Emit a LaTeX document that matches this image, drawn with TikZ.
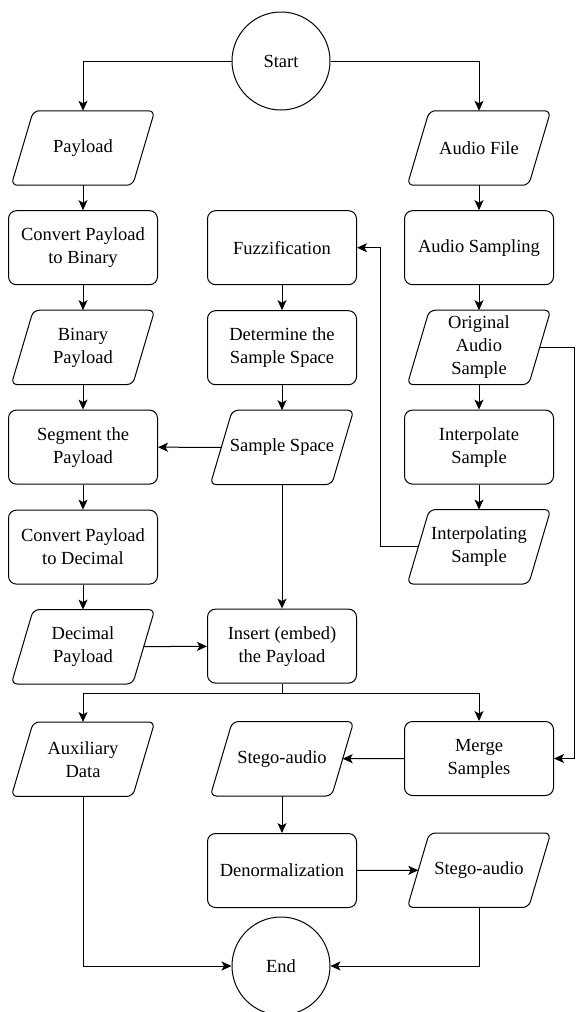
\documentclass[tikz,border=0pt]{standalone}
\usepackage{fontspec}
\setmainfont{Liberation Serif}
\usetikzlibrary{positioning,arrows.meta}

\begin{document}
\begin{tikzpicture}[
  x=1pt, y=-1pt,
  font=\fontsize{18.5}{23}\selectfont,
  every node/.style={align=center},
  term/.style   ={draw, line width=1pt, circle, minimum size=98pt, inner sep=0pt},
  process/.style={draw, line width=1pt, rounded corners=8pt, minimum width=149pt,
                  minimum height=74pt, inner sep=2pt},
  data/.style   ={minimum width=121pt, minimum height=74pt, inner sep=2pt,
                  append after command={\pgfextra{
                    \draw[line width=1pt, rounded corners=6pt]
                      ([xshift=11pt]\tikzlastnode.north west) -- ([xshift=11pt]\tikzlastnode.north east)
                      -- ([xshift=-11pt]\tikzlastnode.south east) -- ([xshift=-11pt]\tikzlastnode.south west)
                      -- cycle;}}},
  flow/.style   ={-{Stealth[length=10pt, width=9pt, inset=2.5pt]}, line width=1pt},
  link/.style   ={line width=1pt},
]
\useasboundingbox (0,0) rectangle (579,1012);

\node[term] (start) at (281,61) {Start};

% payload column
\node[data] (payload) at (83,148) {Payload};
\node[process, below=25pt of payload] (tobin) {Convert Payload\\ to Binary};
\node[data, below=25pt of tobin] (binpay) {Binary\\ Payload};
\node[process, below=25pt of binpay] (segment) {Segment the\\ Payload};
\node[process, below=25pt of segment] (todec) {Convert Payload\\ to Decimal};
\node[data, below=25pt of todec] (decpay) {Decimal\\ Payload};
\node[data, below=38pt of decpay] (aux) {Auxiliary\\ Data};

% fuzzy column
\node[process, right=49pt of tobin] (fuzz) {Fuzzification};
\node[process, below=25pt of fuzz] (sspace) {Determine the\\ Sample Space};
\node[data, below=25pt of sspace] (space) {Sample Space};
\node[process, below=124pt of space] (insert) {Insert (embed)\\ the Payload};
\node[data, below=38pt of insert] (stegoa) {Stego-audio};
\node[process, below=37pt of stegoa] (denorm) {Denormalization};

% audio column
\node[data] (audio) at (479,148) {Audio File};
\node[process, below=25pt of audio] (sampling) {Audio Sampling};
\node[data, below=25pt of sampling] (orig) {Original\\ Audio\\ Sample};
\node[process, below=25pt of orig] (interp) {Interpolate\\ Sample};
\node[data, below=25pt of interp] (interping) {Interpolating\\ Sample};
\node[process, below=137pt of interping] (merge) {Merge\\ Samples};
\node[data, below=37pt of merge] (stegob) {Stego-audio};

\node[term] (end) at (281,966) {End};

\coordinate (rail) at (574,0);
\coordinate (back) at (380,0);
\coordinate (split) at (0,693);

\draw[flow] (start) -| (payload);
\draw[flow] (start) -| (audio);

\draw[flow] (payload) -- (tobin);
\draw[flow] (tobin) -- (binpay);
\draw[flow] (binpay) -- (segment);
\draw[flow] (segment) -- (todec);
\draw[flow] (todec) -- (decpay);
\draw[flow] (decpay) -- (insert);

\draw[flow] (fuzz) -- (sspace);
\draw[flow] (sspace) -- (space);
\draw[flow] (space) -- (segment);
\draw[flow] (space) -- (insert);

\draw[flow] (audio) -- (sampling);
\draw[flow] (sampling) -- (orig);
\draw[flow] (orig) -- (interp);
\draw[flow] (interp) -- (interping);
\draw[flow] (interping) -- (interping -| back) |- (fuzz);
\draw[flow] (orig) -- (orig -| rail) |- (merge);

\draw[link] (insert) -- (insert |- split);
\draw[flow] (insert |- split) -| (aux);
\draw[flow] (insert |- split) -| (merge);

\draw[flow] (merge) -- (stegoa);
\draw[flow] (stegoa) -- (denorm);
\draw[flow] (denorm) -- (stegob);
\draw[flow] (aux) |- (end);
\draw[flow] (stegob) |- (end);

\end{tikzpicture}
\end{document}
